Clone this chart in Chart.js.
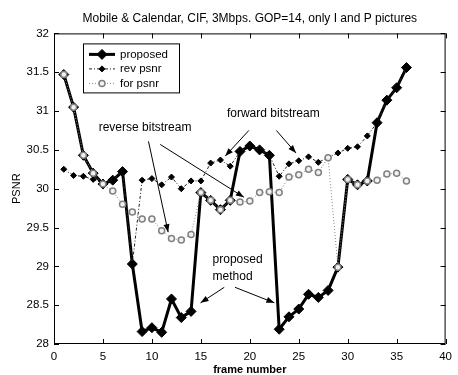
<!DOCTYPE html>
<html>
<head>
<meta charset="utf-8">
<script src="https://cdn.jsdelivr.net/npm/chart.js@4/dist/chart.umd.min.js"></script>
<style>
  html, body { margin: 0; padding: 0; background: #fff; }
</style>
</head>
<body>
<canvas id="grafico" width="458" height="375"></canvas>
<script>
// data
const frames = [1,2,3,4,5,6,7,8,9,10,11,12,13,14,15,16,17,18,19,20,21,22,23,24,25,26,27,28,29,30,31,32,33,34,35,36];
const proposed = [31.47,31.05,30.43,30.20,30.06,30.11,30.22,29.03,28.16,28.21,28.15,28.58,28.34,28.42,29.95,29.85,29.73,29.85,30.48,30.55,30.50,30.43,28.19,28.35,28.45,28.64,28.60,28.69,28.99,30.12,30.05,30.10,30.85,31.14,31.30,31.56];
const revPsnr = [30.25,30.17,30.16,30.12,30.07,30.11,30.22,29.03,30.11,30.13,30.05,30.15,30.00,30.10,30.10,30.33,30.37,30.29,30.48,30.55,30.50,30.43,30.16,30.32,30.36,30.41,30.34,30.40,30.46,30.52,30.54,30.68,30.85,31.14,31.30,31.56];
const forPsnr = [31.47,31.05,30.43,30.20,30.06,29.97,29.80,29.70,29.61,29.61,29.46,29.36,29.34,29.41,29.95,29.85,29.73,29.85,29.83,29.84,29.95,29.96,29.95,30.15,30.18,30.25,30.21,30.40,28.99,30.12,30.05,30.10,30.11,30.19,30.20,30.10];
const seriesNames = ['proposed', 'rev psnr', 'for psnr'];
const xTicks = [0,5,10,15,20,25,30,35,40];
const yTicks = [28,28.5,29,29.5,30,30.5,31,31.5,32];
const yTickLabels = ['28','28.5','29','29.5','30','30.5','31','31.5','32'];

// annotations, in data units
const notes = [
  { text: 'reverse bitstream', x: 9.3, y: 30.78, align: 'center' },
  { text: 'forward bitstream', x: 22.4, y: 30.97, align: 'center' },
  { text: 'proposed', x: 16.2, y: 29.08, align: 'left' },
  { text: 'method', x: 16.2, y: 28.87, align: 'left' }
];
const arrows = [
  [9.65, 30.61, 11.66, 29.44],
  [10.85, 30.57, 19.4, 29.89],
  [19.9, 30.75, 17.49, 30.42],
  [22.71, 30.75, 24.72, 30.46],
  [17.39, 28.73, 14.97, 28.53],
  [18.49, 28.73, 22.51, 28.53]
];

const fonte = 'Liberation Sans, Arial, Helvetica, sans-serif';

function desenhaMarcador(ctx, ds, x, y) {
  const r = ds.pointRadius;
  ctx.beginPath();
  if (ds.pointStyle === 'rectRot') {
    ctx.moveTo(x, y - r); ctx.lineTo(x + r, y); ctx.lineTo(x, y + r); ctx.lineTo(x - r, y); ctx.closePath();
  } else {
    ctx.arc(x, y, r, 0, Math.PI * 2);
  }
  ctx.fillStyle = ds.pointBackgroundColor;
  ctx.fill();
  ctx.lineWidth = ds.pointBorderWidth;
  ctx.strokeStyle = ds.pointBorderColor;
  ctx.setLineDash([]);
  ctx.stroke();
}

const caixaMatlab = {
  id: 'caixaMatlab',
  beforeDraw(chart) {
    const { ctx, width, height } = chart;
    ctx.save();
    ctx.fillStyle = '#fff';
    ctx.fillRect(0, 0, width, height);
    ctx.restore();
  },
  afterDraw(chart) {
    const { ctx, chartArea: a, scales: { x, y } } = chart;
    ctx.save();
    ctx.strokeStyle = '#000';
    ctx.lineWidth = 1;
    ctx.setLineDash([]);
    ctx.strokeRect(a.left + 0.5, a.top + 0.5, a.right - a.left - 1, a.bottom - a.top - 1);
    ctx.beginPath();
    xTicks.forEach(v => {
      const px = Math.round(x.getPixelForValue(v)) + 0.5;
      ctx.moveTo(px, a.bottom); ctx.lineTo(px, a.bottom - 5);
      ctx.moveTo(px, a.top); ctx.lineTo(px, a.top + 5);
    });
    yTicks.forEach(v => {
      const py = Math.round(y.getPixelForValue(v)) + 0.5;
      ctx.moveTo(a.left, py); ctx.lineTo(a.left + 5, py);
      ctx.moveTo(a.right, py); ctx.lineTo(a.right - 5, py);
    });
    ctx.stroke();

    // arrows
    arrows.forEach(([x0, y0, x1, y1]) => {
      const p0x = x.getPixelForValue(x0), p0y = y.getPixelForValue(y0);
      const p1x = x.getPixelForValue(x1), p1y = y.getPixelForValue(y1);
      const ang = Math.atan2(p1y - p0y, p1x - p0x);
      ctx.beginPath();
      ctx.moveTo(p0x, p0y); ctx.lineTo(p1x, p1y);
      ctx.stroke();
      ctx.beginPath();
      ctx.moveTo(p1x, p1y);
      ctx.lineTo(p1x - 8 * Math.cos(ang) + 3 * Math.sin(ang), p1y - 8 * Math.sin(ang) - 3 * Math.cos(ang));
      ctx.lineTo(p1x - 8 * Math.cos(ang) - 3 * Math.sin(ang), p1y - 8 * Math.sin(ang) + 3 * Math.cos(ang));
      ctx.closePath();
      ctx.fillStyle = '#000';
      ctx.fill();
    });

    // annotation texts
    ctx.font = '12px ' + fonte;
    ctx.fillStyle = '#000';
    ctx.textBaseline = 'middle';
    notes.forEach(n => {
      ctx.textAlign = n.align;
      ctx.fillText(n.text, x.getPixelForValue(n.x), y.getPixelForValue(n.y));
    });

    // legend box
    const bx = a.left + 29, by = a.top + 10, bw = 96, bh = 49;
    ctx.fillStyle = '#fff';
    ctx.fillRect(bx, by, bw, bh);
    ctx.strokeStyle = '#000';
    ctx.lineWidth = 1;
    ctx.strokeRect(bx + 0.5, by + 0.5, bw, bh);
    chart.data.datasets.forEach((ds, i) => {
      const ly = by + 11 + i * 14.5;
      ctx.beginPath();
      ctx.strokeStyle = ds.borderColor;
      ctx.lineWidth = ds.borderWidth;
      ctx.setLineDash(ds.borderDash || []);
      ctx.moveTo(bx + 6, ly); ctx.lineTo(bx + 32, ly);
      ctx.stroke();
      desenhaMarcador(ctx, ds, bx + 19, ly);
      ctx.fillStyle = '#000';
      ctx.textAlign = 'left';
      ctx.font = '11.5px ' + fonte;
      ctx.fillText(ds.label, bx + 37, ly);
    });
    ctx.restore();
  }
};

const ctx = document.getElementById('grafico');
new Chart(ctx, {
  type: 'line',
  data: {
    labels: frames,
    datasets: [
      {
        label: seriesNames[0],
        data: frames.map((f, i) => ({ x: f, y: proposed[i] })),
        borderColor: '#000', borderWidth: 3,
        pointStyle: 'rectRot', pointRadius: 5,
        pointBackgroundColor: '#000', pointBorderColor: '#000', pointBorderWidth: 1,
        order: 2
      },
      {
        label: seriesNames[1],
        data: frames.map((f, i) => ({ x: f, y: revPsnr[i] })),
        borderColor: '#222', borderWidth: 1, borderDash: [3, 2, 1, 2],
        pointStyle: 'rectRot', pointRadius: 3,
        pointBackgroundColor: '#000', pointBorderColor: '#000', pointBorderWidth: 1,
        order: 1
      },
      {
        label: seriesNames[2],
        data: frames.map((f, i) => ({ x: f, y: forPsnr[i] })),
        borderColor: '#888', borderWidth: 1, borderDash: [1, 2],
        pointStyle: 'circle', pointRadius: 3,
        pointBackgroundColor: '#f2f2f2', pointBorderColor: '#808080', pointBorderWidth: 1.5,
        order: 0
      }
    ]
  },
  options: {
    responsive: false,
    animation: false,
    layout: { padding: { left: 0, right: 6, top: 0, bottom: 0 } },
    plugins: {
      legend: { display: false },
      tooltip: { enabled: false },
      title: {
        display: true,
        fullSize: false,
        text: 'Mobile & Calendar, CIF, 3Mbps. GOP=14, only I and P pictures',
        color: '#000',
        font: { family: fonte, size: 12, weight: 'normal', lineHeight: 1.2 },
        padding: { top: 11, bottom: 8 }
      }
    },
    scales: {
      x: {
        type: 'linear', min: 0, max: 40,
        afterBuildTicks: s => { s.ticks = xTicks.map(v => ({ value: v })); },
        afterFit: s => { s.height = 31; },
        ticks: { color: '#000', font: { family: fonte, size: 11.5 }, padding: 6, autoSkip: false, maxRotation: 0 },
        grid: { display: false, drawTicks: false },
        border: { display: false },
        title: {
          display: true, text: 'frame number', color: '#000',
          font: { family: fonte, size: 11, weight: 'bold', lineHeight: 1 },
          padding: { top: 0, bottom: 0 }
        }
      },
      y: {
        type: 'linear', min: 28, max: 32,
        afterBuildTicks: s => { s.ticks = yTicks.map(v => ({ value: v })); },
        afterFit: s => { s.width = 54; },
        ticks: {
          color: '#000', font: { family: fonte, size: 11.5 }, padding: 5, autoSkip: false,
          callback: v => yTickLabels[yTicks.indexOf(v)]
        },
        grid: { display: false, drawTicks: false },
        border: { display: false },
        title: {
          display: true, text: 'PSNR', color: '#000',
          font: { family: fonte, size: 11, weight: 'normal', lineHeight: 1.2 },
          padding: { top: 10, bottom: 0 }
        }
      }
    }
  },
  plugins: [caixaMatlab]
});
</script>
</body>
</html>
